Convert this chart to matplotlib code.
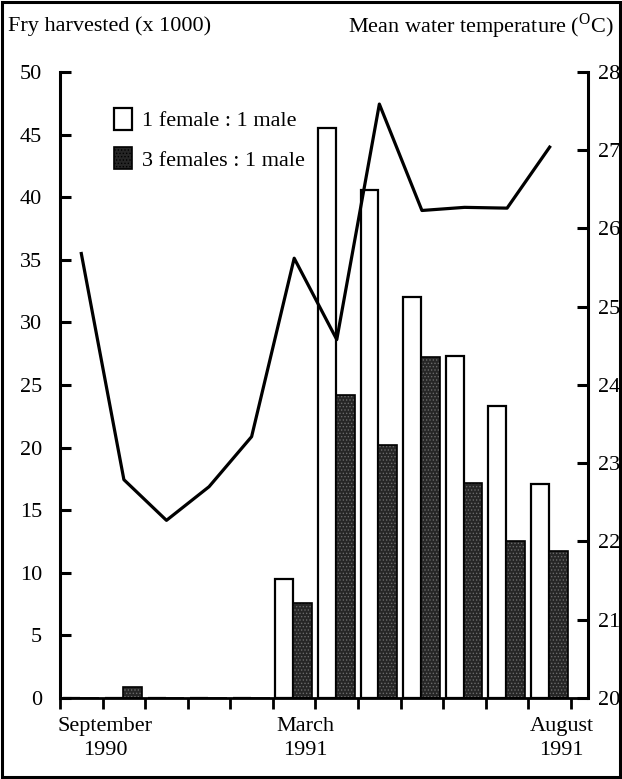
import matplotlib
matplotlib.use("Agg")
import matplotlib.pyplot as plt
from matplotlib.patches import Patch, Rectangle
from matplotlib.transforms import blended_transform_factory

# Monthly harvest (x 1000 fry), September 1990 .. August 1991
months = ["Sep", "Oct", "Nov", "Dec", "Jan", "Feb", "Mar", "Apr", "May", "Jun", "Jul", "Aug"]
fry_1to1 = [0, 0, 0, 0, 0, 9.5, 45.5, 40.6, 32.0, 27.3, 23.3, 17.1]
fry_3to1 = [0, 0.9, 0, 0, 0, 7.6, 24.2, 20.2, 27.2, 17.2, 12.5, 11.7]
water_temp = [25.68, 22.79, 22.27, 22.70, 23.34, 25.62, 24.58, 27.59, 26.23, 26.27, 26.26, 27.04]

date_labels = ["September\n1990", "March\n1991", "August\n1991"]
date_label_x = [1.06, 5.77, 11.78]

plt.rcParams["font.family"] = ["Liberation Serif", "DejaVu Serif"]
plt.rcParams["mathtext.fontset"] = "custom"
plt.rcParams["mathtext.rm"] = "Liberation Serif"
plt.rcParams["hatch.color"] = "#6a6a6a"
plt.rcParams["hatch.linewidth"] = 0.6

FS = 16

fig = plt.figure(figsize=(6.22, 7.79), dpi=100)
ax = fig.add_axes([0.0965, 0.104, 0.8488, 0.8036])
ax2 = ax.twinx()

x = list(range(len(months)))
white_x = [i + 0.06 for i in x]
dark_x = [i + 0.48 for i in x]
mid_x = [i + 0.5 for i in x]

ax.bar(white_x, fry_1to1, width=0.42, align="edge", color="white",
       edgecolor="black", linewidth=1.6, zorder=2)
ax.bar(dark_x, fry_3to1, width=0.44, align="edge", color="#262626",
       hatch=".....", linewidth=0, zorder=2)
ax.bar(dark_x, fry_3to1, width=0.44, align="edge", fill=False,
       edgecolor="black", linewidth=1.2, zorder=2)

ax2.plot(mid_x, water_temp, color="black", linewidth=2.3, zorder=5)

ax.set_xlim(0, 12.4)
ax.set_ylim(0, 50)
ax2.set_ylim(20, 28)

for a in (ax, ax2):
    a.spines["top"].set_visible(False)
    a.spines["left"].set_linewidth(2.2)
    a.spines["right"].set_linewidth(2.2)
    a.spines["bottom"].set_linewidth(2.0)
    a.patch.set_visible(False)
ax2.spines["bottom"].set_visible(False)
ax2.spines["left"].set_visible(False)
ax.spines["right"].set_visible(False)
ax2.set_zorder(ax.get_zorder() + 1)

ax.set_yticks(range(0, 51, 5))
ax.tick_params(axis="y", direction="in", length=8, width=2.2,
               labelsize=FS, pad=13)
ax2.set_yticks(range(20, 29))
ax2.tick_params(axis="y", direction="in", length=8, width=2.2,
                labelsize=FS, pad=7)

ax.set_xticks(range(0, 13))
ax.set_xticklabels([])
ax.tick_params(axis="x", direction="out", length=8, width=2.0)

trans = blended_transform_factory(ax.transData, ax.transAxes)
for lx, lab in zip(date_label_x, date_labels):
    ax.text(lx, -0.031, lab, transform=trans, ha="center", va="top",
            fontsize=FS, linespacing=1.35, multialignment="center")

fig.text(0.013, 0.966, "Fry harvested (x 1000)", ha="left", va="center",
         fontsize=FS)
fig.text(0.987, 0.966, r"Mean water temperature ($^{\mathrm{O}}$C)",
         ha="right", va="center", fontsize=FS)

handles = [Patch(facecolor="white", edgecolor="black", linewidth=1.6),
           Patch(facecolor="#262626", edgecolor="black", hatch=".....",
                 linewidth=1.2)]
ax.legend(handles, ["1 female : 1 male", "3 females : 1 male"],
          loc="upper left", bbox_to_anchor=(0.085, 0.957), frameon=False,
          fontsize=FS, handlelength=0.8, handleheight=1.15,
          handletextpad=0.45, labelspacing=0.72, borderaxespad=0)

# frame around the whole figure
fig.patches.append(Rectangle((0.004, 0.003), 0.992, 0.994,
                             transform=fig.transFigure, fill=False,
                             edgecolor="black", linewidth=2.2))

fig.savefig("out.png", dpi=100)
